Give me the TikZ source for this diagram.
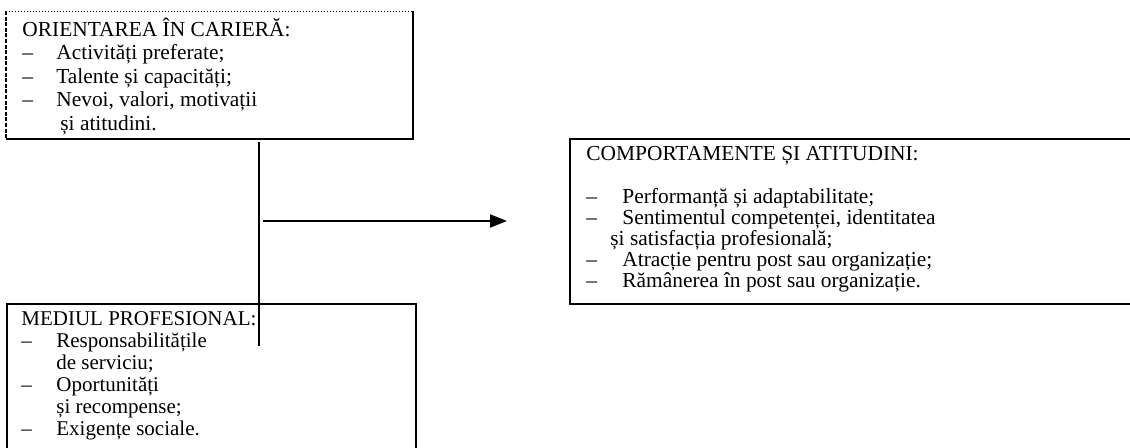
\documentclass[tikz,border=0pt]{standalone}
\usepackage{fontspec}
\setmainfont{Liberation Serif}
\usetikzlibrary{arrows.meta,positioning}

\begin{document}
\begin{tikzpicture}[
    x=0.5pt,
    y=-0.5pt,
    frame/.style={draw=black,line width=1pt},
    link/.style={draw=black,line width=1pt},
    dir/.style={-{Triangle[length=8.5pt,width=6.5pt]},
                draw=black,line width=1pt},
    boxtext/.style={anchor=base west,inner sep=0pt},
    plainbox/.style={anchor=north west,inner sep=0pt}
]

\useasboundingbox (0,0) rectangle (1130,447);
\clip (0,0) rectangle (1130,447);

\node[plainbox,minimum width=203pt,minimum height=63.5pt] (orient) at (6,11) {};
\node[plainbox,frame,minimum width=204.5pt,minimum height=84pt] (mediu) at (6,303) {};
\node[plainbox,frame,minimum width=290pt,minimum height=82.5pt] (comport) at (569,138) {};

\draw[frame] (orient.north east) -- (orient.south east) -- (orient.south west);
\draw[draw=black,line width=0.5pt,densely dotted] (orient.north west) -- (orient.north east);
\draw[frame,dash pattern=on 2pt off 0.8pt] (orient.north west) -- (orient.south west);

\node[boxtext,font=\fontsize{10.7}{11.75}\selectfont] (orienttxt) at (22,36) {%
\begin{tabular}[t]{@{}p{17pt}@{}l@{}}
\multicolumn{2}{@{}l@{}}{ORIENTAREA ÎN CARIERĂ:}\\
–&Activități preferate;\\
–&Talente și capacități;\\
–&Nevoi, valori, motivații\\
&\hspace{2pt}și atitudini.
\end{tabular}};

\node[boxtext,font=\fontsize{10.5}{11}\selectfont] (mediutxt) at (21,325) {%
\begin{tabular}[t]{@{}p{17.5pt}@{}l@{}}
\multicolumn{2}{@{}l@{}}{MEDIUL PROFESIONAL:}\\
–&Responsabilitățile\\
&de serviciu;\\
–&Oportunități\\
&și recompense;\\
–&Exigențe sociale.
\end{tabular}};

\node[boxtext,font=\fontsize{10.7}{10.25}\selectfont] (comporttxt) at (586,160) {%
\begin{tabular}[t]{@{}p{18pt}@{}l@{}}
\multicolumn{2}{@{}l@{}}{COMPORTAMENTE ȘI ATITUDINI:}\\[11.25pt]
–&Performanță și adaptabilitate;\\
–&Sentimentul competenței, identitatea\\
\multicolumn{2}{@{}l@{}}{\hspace{12pt}și satisfacția profesională;}\\
–&Atracție pentru post sau organizație;\\
–&Rămânerea în post sau organizație.
\end{tabular}};

\coordinate (vtop) at (259,142);
\coordinate (vbot) at (259,346);
\coordinate (hstart) at (263,221);
\coordinate (htip) at (507,221);

\draw[link] (vtop) -- (vbot);
\draw[dir] (hstart) -- (htip);

\end{tikzpicture}
\end{document}
